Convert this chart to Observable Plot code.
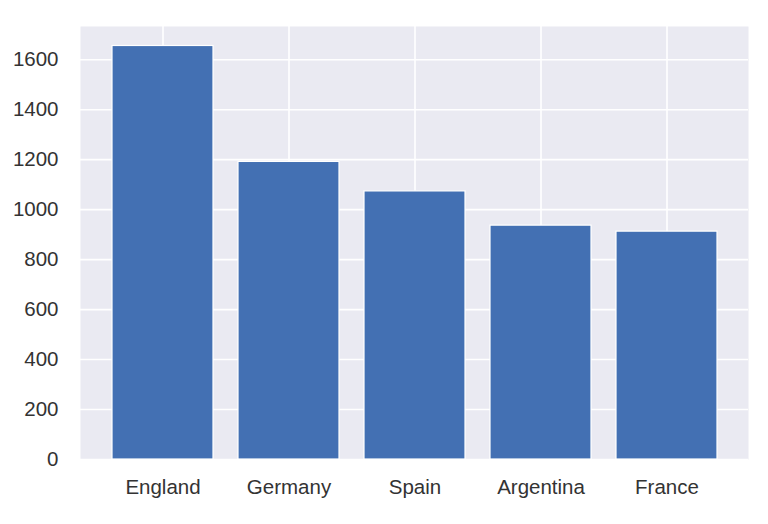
<!DOCTYPE html>
<html>
<head>
<meta charset="utf-8">
<script src="https://cdn.jsdelivr.net/npm/d3@7"></script>
<script src="https://cdn.jsdelivr.net/npm/@observablehq/plot@0.6"></script>
<style>
  html, body { margin: 0; padding: 0; background: #ffffff; }
  #chart svg { display: block; }
</style>
</head>
<body>
<div id="chart"></div>
<script>
const countries = ["England", "Germany", "Spain", "Argentina", "France"];
const values = [1655, 1191, 1073, 936, 912];
const yTicks = [0, 200, 400, 600, 800, 1000, 1200, 1400, 1600];

const data = countries.map((c, i) => ({country: c, value: values[i]}));

const chart = Plot.plot({
  width: 768,
  height: 524,
  marginLeft: 80,
  marginRight: 20,
  marginTop: 26,
  marginBottom: 65,
  style: {
    fontFamily: "'Liberation Sans', Arial, sans-serif",
    fontSize: "20.5px",
    color: "#333333",
    background: "#ffffff"
  },
  x: {
    domain: countries,
    paddingInner: 0.2,
    paddingOuter: 0.236,
    label: null
  },
  y: {
    domain: [0, 1733],
    label: null
  },
  marks: [
    Plot.frame({fill: "#eaeaf2", stroke: null}),
    Plot.gridY(yTicks, {stroke: "#ffffff", strokeOpacity: 1, strokeWidth: 1.6}),
    Plot.gridX(countries, {stroke: "#ffffff", strokeOpacity: 1, strokeWidth: 1.6}),
    Plot.barY(data, {x: "country", y: "value", fill: "#4370b3", stroke: "#ffffff", strokeWidth: 1.2}),
    Plot.axisY(yTicks, {tickSize: 0, tickPadding: 22, fill: "#333333", label: null, tickFormat: d => String(d)}),
    Plot.axisX(countries, {tickSize: 0, tickPadding: 20, fill: "#333333", label: null})
  ]
});
document.getElementById("chart").appendChild(chart);
</script>
</body>
</html>
